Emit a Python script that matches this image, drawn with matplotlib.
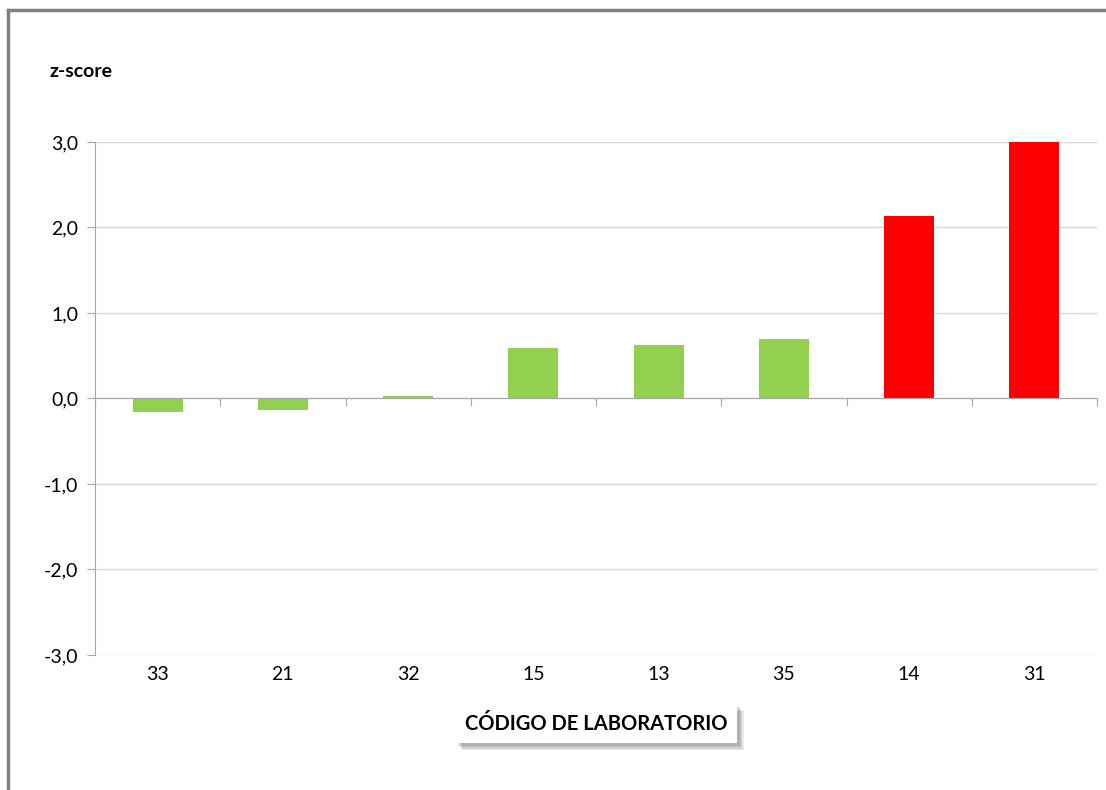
import matplotlib.pyplot as plt
import matplotlib.patheffects as pe
from matplotlib.lines import Line2D
from matplotlib.ticker import FuncFormatter

plt.rcParams['font.family'] = ['Lato', 'DejaVu Sans']

# Datos
labs = ['33', '21', '32', '15', '13', '35', '14', '31']
zscores = [-0.16, -0.13, 0.03, 0.59, 0.62, 0.70, 2.13, 3.00]
colores = ['#92D050'] * 6 + ['#FF0000'] * 2

fig = plt.figure(figsize=(11.06, 7.9), dpi=100)
ax = fig.add_axes([0.0859, 0.1709, 0.9060, 0.6494])

x = range(len(labs))
ax.bar(x, zscores, width=0.4, color=colores, zorder=3)

ax.set_xlim(-0.5, len(labs) - 0.5)
ax.set_ylim(-3, 3)
ax.set_yticks([-3, -2, -1, 0, 1, 2, 3])
ax.yaxis.set_major_formatter(FuncFormatter(lambda v, p: f'{v:.1f}'.replace('.', ',')))
ax.yaxis.grid(True, color='#d9d9d9', linewidth=1, zorder=0)
ax.tick_params(axis='y', labelsize=14, color='#a6a6a6', length=6, pad=6)

# Eje x en cero con marcas entre categorías
ax.spines['bottom'].set_position(('data', 0))
ax.spines['bottom'].set_color('#a6a6a6')
ax.spines['bottom'].set_zorder(4)
ax.spines['left'].set_color('#a6a6a6')
ax.spines['top'].set_visible(False)
ax.spines['right'].set_visible(False)
ax.set_xticks([i - 0.5 for i in range(len(labs) + 1)])
ax.set_xticklabels([])
ax.tick_params(axis='x', color='#a6a6a6', length=6, direction='out')

# Etiquetas de categoría abajo
sec = ax.secondary_xaxis('bottom')
sec.set_xticks(list(x), labels=labs)
sec.tick_params(length=0, labelsize=14, pad=8)
sec.spines['bottom'].set_visible(False)
sec.set_xlabel('CÓDIGO DE LABORATORIO', fontsize=14.5, fontweight='bold', labelpad=22,
               bbox=dict(facecolor='white', edgecolor='none', pad=7))
sombra = [pe.SimplePatchShadow(offset=(d, -d), alpha=0.12, shadow_rgbFace='#404040')
          for d in (5, 4, 3, 2)]
sec.xaxis.label.get_bbox_patch().set_path_effects(sombra + [pe.Normal()])

fig.text(0.045, 0.909, 'z-score', fontsize=14, fontweight='bold', va='center')

# Bordes del gráfico
fig.add_artist(Line2D([0.0072, 1], [0.987, 0.987], color='#808080', linewidth=2.5))
fig.add_artist(Line2D([0.0072, 0.0072], [0, 0.987], color='#808080', linewidth=2.5))

plt.savefig('out.png', dpi=100)
